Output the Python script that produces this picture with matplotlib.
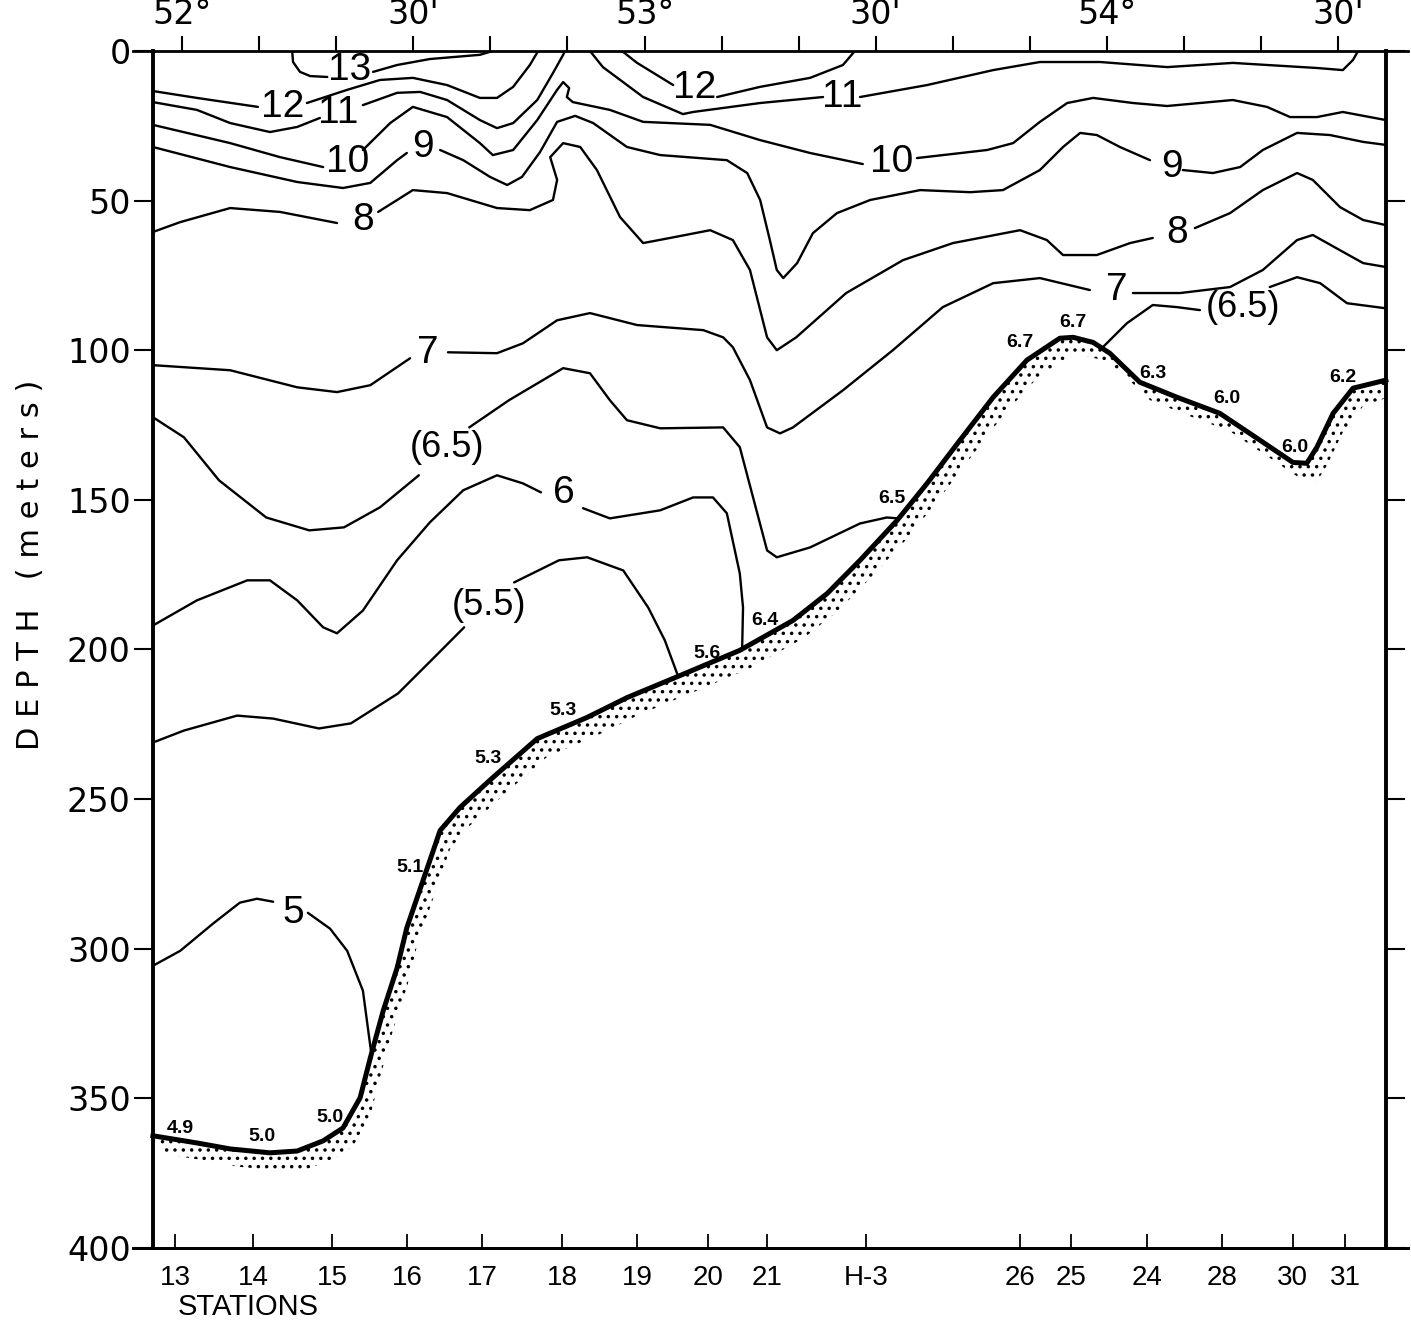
import numpy as np
import matplotlib
matplotlib.use('Agg')
import matplotlib.pyplot as plt

nan = np.nan

# Borde del corte (longitud E) y profundidad en metros
lon_left, lon_right = 51.937, 54.603

# Isotermas (nan separa los tramos cortados por la etiqueta)
t13_lon = [52.238, 52.240, 52.255, 52.277, 52.314, nan, 52.413, 52.465, 52.536, 52.644, 52.672]
t13_dep = [0.0, 3.7, 7.0, 8.4, 8.7, nan, 7.0, 4.7, 2.7, 1.3, 0.0]

t12_lon = [51.937, 52.032, 52.164, nan, 52.270, 52.357, 52.428, 52.499, 52.573, 52.644, 52.681, 52.716, 52.752, 52.770,
           nan, 52.951, 52.984, 53.062, nan, 53.157, 53.250, 53.358, 53.429, 53.455]
t12_dep = [13.4, 15.7, 18.7, nan, 17.4, 13.0, 9.7, 9.0, 11.4, 15.7, 15.7, 12.0, 4.7, 0.0,
           nan, 0.0, 4.0, 11.4, nan, 15.4, 12.0, 9.0, 4.7, 0.0]

t11_lon = [51.937, 52.032, 52.104, 52.190, 52.249, 52.298, nan, 52.391, 52.465, 52.515, 52.573, 52.644, 52.681, 52.716,
           52.768, 52.802, 52.824, 52.828,
           nan, 52.882, 52.910, 52.997, 53.083, 53.105, 53.250, 53.386, nan, 53.466, 53.611, 53.754, 53.855, 53.985,
           54.130, 54.272, 54.454, 54.510, 54.532, 54.543]
t11_dep = [17.1, 19.7, 24.1, 27.1, 25.4, 22.4, nan, 18.1, 14.0, 13.7, 16.4, 23.1, 25.8, 24.1,
           16.4, 7.4, 1.3, 0.0,
           nan, 0.0, 5.4, 15.4, 21.1, 20.4, 17.4, 15.4, nan, 15.4, 11.4, 6.4, 3.7, 3.7,
           5.4, 4.0, 5.7, 6.4, 3.0, 0.0]

t10_lon = [51.937, 52.104, 52.212, 52.305, nan, 52.391, 52.450, 52.499, 52.573, 52.644, 52.672, 52.716, 52.768, 52.811,
           52.824, 52.837, 52.832, 52.845, 52.925, 52.997, 53.142, 53.250, 53.358, 53.472, nan, 53.589, 53.741, 53.797,
           53.855, 53.914, 53.970, 54.056, 54.130, 54.272, 54.346, 54.396, 54.454, 54.510, 54.603]
t10_dep = [24.7, 30.8, 35.5, 38.8, nan, 33.1, 24.1, 18.7, 22.1, 30.8, 34.8, 33.1, 23.1, 13.0,
           10.4, 12.4, 15.4, 17.1, 19.7, 23.7, 24.7, 29.8, 34.1, 37.8, nan, 35.8, 33.1, 30.8,
           23.7, 17.4, 15.7, 17.4, 18.4, 16.4, 18.7, 22.1, 22.1, 20.4, 23.1]

t9_lon = [51.937, 52.104, 52.249, 52.348, 52.407, 52.465, 52.486, nan, 52.558, 52.608, 52.666, 52.703, 52.735, 52.774,
          52.811, 52.850, 52.889, 52.962, 53.034, 53.178, 53.222, 53.250, 53.271, 53.286, 53.300, 53.330, 53.364,
          53.416, 53.488, 53.596, 53.704, 53.775, 53.855, 53.905, 53.942, 53.978, 54.028, 54.093, nan, 54.164, 54.229,
          54.288, 54.337, 54.411, 54.482, 54.554, 54.603]
t9_dep = [32.1, 38.8, 43.8, 45.8, 44.1, 36.5, 34.1, nan, 33.1, 36.5, 42.1, 44.8, 42.1, 33.8,
          23.7, 21.7, 24.1, 32.1, 34.8, 36.5, 40.8, 49.8, 63.2, 73.2, 75.9, 70.9, 60.9,
          54.2, 49.8, 46.5, 47.2, 46.5, 39.8, 32.1, 27.4, 28.1, 32.1, 36.5, nan, 39.8, 40.8,
          38.8, 33.1, 27.4, 28.1, 30.4, 31.4]

t8_lon = [51.937, 51.996, 52.104, 52.212, 52.335, nan, 52.424, 52.499, 52.573, 52.681, 52.752, 52.802, 52.811, 52.796,
          52.824, 52.861, 52.897, 52.947, 52.997, 53.055, 53.142, 53.191, 53.228, 53.265, 53.286, 53.328, 53.436,
          53.559, 53.667, 53.812, 53.870, 53.905, 53.978, 54.050, 54.099, nan, 54.190, 54.266, 54.337, 54.411, 54.445,
          54.504, 54.554, 54.603]
t8_dep = [60.5, 57.2, 52.5, 53.8, 57.5, nan, 53.8, 46.5, 47.5, 52.5, 53.2, 49.8, 43.1, 35.5,
          30.8, 32.1, 39.8, 55.5, 64.2, 62.5, 59.9, 63.2, 73.2, 95.7, 100.0, 95.7, 80.9,
          69.9, 64.2, 59.9, 63.2, 68.2, 68.2, 64.2, 62.5, nan, 59.2, 54.2, 46.5, 40.8, 43.1,
          52.2, 56.5, 58.2]

t7_lon = [51.937, 52.104, 52.249, 52.335, 52.407, 52.493, nan, 52.575, 52.681, 52.737, 52.811, 52.882, 52.984, 53.127,
          53.170, 53.191, 53.228, 53.265, 53.293, 53.321, 53.429, 53.537, 53.645, 53.754, 53.855, 53.963, nan, 54.056,
          54.158, 54.266, 54.337, 54.411, 54.445, 54.504, 54.554, 54.603]
t7_dep = [105.0, 106.7, 112.4, 114.0, 111.7, 102.7, nan, 100.7, 101.0, 97.7, 90.0, 87.6, 91.6, 93.3,
          95.7, 99.0, 110.0, 125.8, 127.8, 125.8, 113.4, 100.0, 85.6, 77.6, 75.9, 79.9, nan, 80.9,
          80.9, 78.9, 73.2, 63.2, 61.5, 66.6, 70.9, 72.2]

t65_lon = [51.937, 52.004, 52.080, 52.182, 52.275, 52.350, 52.428, 52.512, nan, 52.621, 52.707, 52.824, 52.882, 52.925,
           52.962, 53.034, 53.170, 53.206, 53.265, 53.286, 53.358, 53.466, 53.524, 53.548,
           nan, 53.991, 54.043, 54.099, 54.151, 54.201, nan, 54.352, 54.411, 54.461, 54.519, 54.603]
t65_dep = [122.4, 129.1, 143.5, 155.9, 160.2, 159.2, 152.5, 141.8, nan, 125.8, 116.7, 106.0, 107.7, 116.7,
           123.4, 126.1, 125.8, 132.4, 166.9, 169.2, 165.9, 157.9, 155.9, 156.2,
           nan, 99.0, 91.0, 84.9, 85.6, 86.6, nan, 78.9, 75.6, 77.6, 84.3, 86.0]

t6_lon = [51.937, 52.032, 52.141, 52.190, 52.249, 52.305, 52.335, 52.391, 52.465, 52.536, 52.608, 52.681, 52.737, 52.776,
          nan, 52.867, 52.925, 53.034, 53.105, 53.148, 53.178, 53.206, 53.213, 53.211]
t6_dep = [192.0, 183.6, 176.9, 176.9, 183.6, 192.6, 194.6, 187.0, 170.2, 157.5, 146.8, 141.8, 144.5, 147.5,
          nan, 152.8, 156.2, 153.5, 149.2, 149.2, 154.5, 174.6, 186.0, 200.3]

t55_lon = [51.937, 52.004, 52.119, 52.197, 52.296, 52.365, 52.467, 52.545, 52.610, nan, 52.718, 52.815, 52.876, 52.954,
           53.008, 53.044, 53.072]
t55_dep = [231.1, 227.1, 222.1, 223.1, 226.4, 224.7, 214.7, 202.7, 192.6, nan, 177.6, 170.2, 169.2, 173.6,
           186.0, 197.0, 208.7]

t5_lon = [51.937, 51.996, 52.067, 52.125, 52.162, 52.197, nan, 52.272, 52.320, 52.357, 52.391, 52.409]
t5_dep = [305.7, 300.7, 291.6, 284.6, 283.3, 284.3, nan, 288.0, 293.3, 300.7, 314.0, 334.8]

# Fondo
fondo_lon = [51.937, 52.032, 52.104, 52.190, 52.249, 52.305, 52.348, 52.385, 52.407, 52.435, 52.465, 52.486, 52.515,
             52.558, 52.601, 52.672, 52.768, 52.876, 52.962, 53.077, 53.206, 53.321, 53.395, 53.466, 53.546, 53.611,
             53.682, 53.754, 53.827, 53.898, 53.927, 53.970, 54.006, 54.071, 54.151, 54.244, 54.331, 54.402, 54.432,
             54.454, 54.489, 54.532, 54.603]
fondo_dep = [362.5, 364.9, 366.9, 368.2, 367.6, 364.2, 359.9, 349.8, 336.5, 320.7, 306.4, 293.0, 279.9,
             260.5, 252.8, 242.8, 229.8, 222.7, 216.1, 208.7, 200.3, 190.3, 181.3, 170.2, 156.9, 144.5,
             130.1, 115.7, 103.3, 96.0, 95.7, 97.4, 101.0, 110.7, 115.7, 121.1, 130.1, 137.5, 137.8,
             132.4, 121.1, 112.7, 110.0]

# Etiquetas de las isotermas
etq_txt = ['13', '12', '11', '10', '9', '8', '7', '(6.5)', '6', '(5.5)', '5',
           '12', '11', '10', '9', '8', '7', '(6.5)']
etq_lon = [52.363, 52.218, 52.337, 52.357, 52.521, 52.391, 52.532, 52.573, 52.826, 52.664, 52.240,
           53.109, 53.427, 53.535, 54.141, 54.151, 54.022, 54.294]
etq_dep = [6.4, 18.7, 20.7, 37.1, 32.1, 56.5, 101.0, 132.4, 147.8, 185.3, 288.0,
           12.4, 15.4, 37.1, 38.8, 60.9, 79.9, 85.6]

# Temperaturas medidas en el fondo
tf_txt = ['4.9', '5.0', '5.0', '5.1', '5.3', '5.3', '5.6', '6.4', '6.5', '6.7', '6.7', '6.3', '6.0', '6.0', '6.2']
tf_lon = [51.996, 52.173, 52.320, 52.493, 52.662, 52.824, 53.135, 53.261, 53.535, 53.812, 53.927, 54.099, 54.259,
          54.406, 54.510]
tf_dep = [360.2, 362.9, 356.5, 272.9, 236.5, 220.4, 201.3, 190.3, 149.5, 97.3, 90.6, 107.7, 116.1, 132.4, 109.0]

# Estaciones
est_txt = ['13', '14', '15', '16', '17', '18', '19', '20', '21', 'H-3', '26', '25', '24', '28', '30', '31']
est_lon = [51.985, 52.154, 52.324, 52.486, 52.649, 52.822, 52.984, 53.137, 53.265, 53.479, 53.812, 53.922, 54.086,
           54.249, 54.402, 54.515]

# Longitudes del eje superior
lon_ticks = [52.0, 52.5, 53.0, 53.5, 54.0, 54.5]
lon_labels = ['52°', "30'", '53°', "30'", '54°', "30'"]

isotermas = [(t13_lon, t13_dep), (t12_lon, t12_dep), (t11_lon, t11_dep), (t10_lon, t10_dep), (t9_lon, t9_dep),
             (t8_lon, t8_dep), (t7_lon, t7_dep), (t65_lon, t65_dep), (t6_lon, t6_dep), (t55_lon, t55_dep),
             (t5_lon, t5_dep)]

plt.rcParams['hatch.linewidth'] = 1.3
fuente = ['Liberation Sans', 'DejaVu Sans']

fig = plt.figure(figsize=(14.11, 13.23), dpi=100)
ax = fig.add_axes([0.0943, 0.0567, 0.9036, 0.9048])
ax.set_xlim(51.894, 54.651)
ax.set_ylim(400, 0)

# Marco
ax.spines['left'].set_position(('data', lon_left))
ax.spines['right'].set_position(('data', lon_right))
for s in ['left', 'right']:
    ax.spines[s].set_linewidth(2.8)
for s in ['top', 'bottom']:
    ax.spines[s].set_linewidth(2.0)

# Isotermas
for lon, dep in isotermas:
    ax.plot(lon, dep, color='black', lw=1.7, solid_joinstyle='round', solid_capstyle='round')

for t, x, y in zip(etq_txt, etq_lon, etq_dep):
    ax.text(x, y, t, ha='center', va='center', fontsize=26 if t.startswith('(') else 28, family=fuente)

# Fondo con punteado
flon = np.array(fondo_lon)
fdep = np.array(fondo_dep)
ax.fill(np.concatenate([flon, np.minimum(flon[::-1] + 0.022, lon_right)]),
        np.concatenate([fdep, fdep[::-1] + 6.0]),
        facecolor='none', edgecolor='black', lw=0, hatch='..')
ax.plot(flon, fdep, color='black', lw=3.6, solid_joinstyle='round')

for t, x, y in zip(tf_txt, tf_lon, tf_dep):
    ax.text(x, y, t, ha='center', va='center', fontsize=14, fontweight='bold', family=fuente)

# Eje superior: longitudes
ax.set_xticks(lon_ticks, labels=lon_labels)
ax.set_xticks(np.arange(52, 54.55, 1 / 6), minor=True)
ax.tick_params(axis='x', which='both', bottom=False, labelbottom=False, top=True, labeltop=True,
               direction='out', length=11, width=1.5, labelsize=24, pad=3)

# Eje de profundidad
ax.set_yticks(range(0, 401, 50))
ax.tick_params(axis='y', left=True, right=True, direction='out', length=14, width=1.5, labelsize=24, pad=2)

# Eje inferior: estaciones
sec = ax.secondary_xaxis('bottom')
sec.set_xticks(est_lon, labels=est_txt)
sec.tick_params(direction='in', length=10, width=1.3, labelsize=20, pad=12)
for lab in sec.get_xticklabels():
    lab.set_family(fuente)
sec.spines['bottom'].set_linewidth(2.0)

fig.text(0.1758, 0.0121, 'STATIONS', fontsize=21, ha='center', va='center', family=fuente)
fig.text(0.0213, 0.573, 'D E P T H   ( m e t e r s )', fontsize=22, rotation=90, ha='center', va='center')

plt.savefig('out.png', dpi=100)
